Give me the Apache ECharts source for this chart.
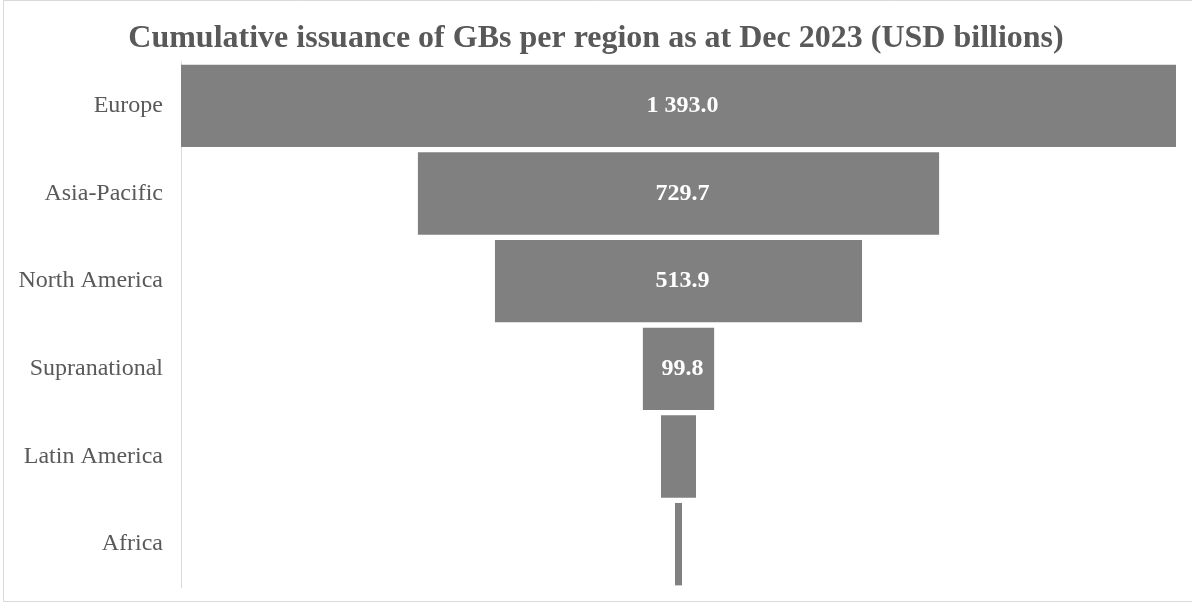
<!DOCTYPE html>
<html>
<head>
<meta charset="utf-8">
<script src="https://cdn.jsdelivr.net/npm/echarts@6/dist/echarts.min.js"></script>
<style>
  html, body { margin: 0; padding: 0; background: #ffffff; }
  #chart { width: 1192px; height: 603px; }
</style>
</head>
<body>
<div id="chart"></div>
<script>
// Regions and cumulative green bond issuance (USD billions)
const regions = ['Europe', 'Asia-Pacific', 'North America', 'Supranational', 'Latin America', 'Africa'];
const issuance = [1393.0, 729.7, 513.9, 99.8, 49.0, 9.8];
// Regions whose bars are wide enough to carry a value label
const labelled = [true, true, true, true, false, false];

const maxValue = Math.max(...issuance);
// Invisible spacer that centres each bar, giving the funnel shape
const spacer = issuance.map(v => (maxValue - v) / 2);

const fmt = v => {
  const s = v.toFixed(1);
  const [i, d] = s.split('.');
  return i.replace(/\B(?=(\d{3})+(?!\d))/g, ' ') + '.' + d;
};

const chart = echarts.init(document.getElementById('chart'), null, { renderer: 'canvas' });
chart.setOption({
  animation: false,
  backgroundColor: '#ffffff',
  title: {
    text: 'Cumulative issuance of GBs per region as at Dec 2023 (USD billions)',
    left: 'center',
    top: 18,
    textStyle: {
      fontFamily: 'Liberation Serif',
      fontWeight: 'bold',
      fontSize: 32,
      color: '#595959'
    }
  },
  graphic: [{
    type: 'rect',
    shape: { x: 3.5, y: 0.5, width: 1195, height: 601 },
    style: { fill: 'none', stroke: '#d9d9d9', lineWidth: 1 },
    silent: true
  }],
  grid: { left: 181, right: 16, top: 62, bottom: 15 },
  xAxis: {
    type: 'value',
    min: 0,
    max: maxValue,
    show: false
  },
  yAxis: {
    type: 'category',
    inverse: true,
    data: regions,
    axisTick: { show: false },
    axisLine: { lineStyle: { color: '#d9d9d9', width: 1 } },
    axisLabel: {
      margin: 18,
      fontFamily: 'Liberation Serif',
      fontSize: 24,
      color: '#595959'
    }
  },
  series: [
    {
      type: 'bar',
      stack: 'funnel',
      data: spacer,
      itemStyle: { color: 'transparent' },
      silent: true,
      barCategoryGap: '6%'
    },
    {
      type: 'bar',
      stack: 'funnel',
      data: issuance.map((v, i) => ({
        value: v,
        label: { show: labelled[i] }
      })),
      barCategoryGap: '6%',
      itemStyle: { color: '#808080' },
      label: {
        position: 'inside',
        offset: [4, 0],
        formatter: p => fmt(p.value),
        fontFamily: 'Liberation Serif',
        fontWeight: 'bold',
        fontSize: 24,
        color: '#ffffff'
      }
    }
  ]
});
</script>
</body>
</html>
